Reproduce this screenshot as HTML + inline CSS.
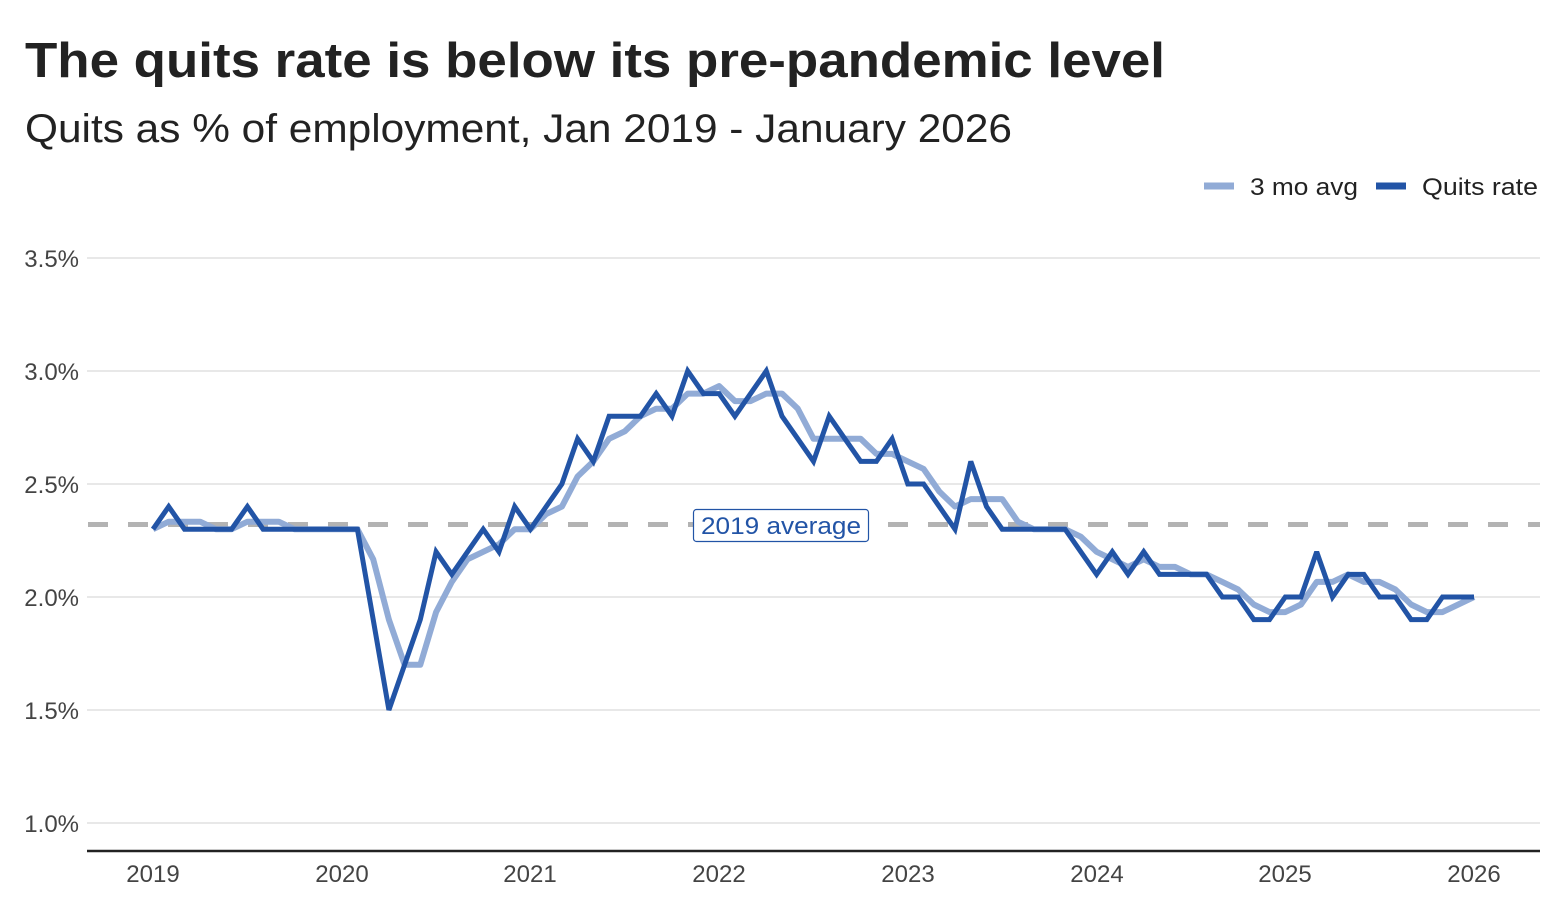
<!DOCTYPE html>
<html>
<head>
<meta charset="utf-8">
<style>
html,body{margin:0;padding:0;background:#fff;}
svg{display:block;}
text{font-family:"Liberation Sans",Arial,sans-serif;}
</style>
</head>
<body>
<svg width="1566" height="897" viewBox="0 0 1566 897" xmlns="http://www.w3.org/2000/svg">
<rect x="0" y="0" width="1566" height="897" fill="#fff"/>
<text x="25" y="77" font-size="49" font-weight="bold" fill="#222" textLength="1140" lengthAdjust="spacingAndGlyphs">The quits rate is below its pre-pandemic level</text>
<text x="25" y="142" font-size="40" fill="#222" textLength="987" lengthAdjust="spacingAndGlyphs">Quits as % of employment, Jan 2019 - January 2026</text>

<!-- legend -->
<line x1="1204" y1="186" x2="1234" y2="186" stroke="#91abd6" stroke-width="7"/>
<text x="1250" y="195" font-size="24" fill="#222" textLength="108" lengthAdjust="spacingAndGlyphs">3 mo avg</text>
<line x1="1376" y1="186" x2="1406" y2="186" stroke="#2254a6" stroke-width="7"/>
<text x="1422" y="195" font-size="24" fill="#222" textLength="116" lengthAdjust="spacingAndGlyphs">Quits rate</text>

<!-- gridlines -->
<g stroke="#d9d9d9" stroke-width="1.3">
<line x1="87" y1="258" x2="1540" y2="258"/>
<line x1="87" y1="371" x2="1540" y2="371"/>
<line x1="87" y1="484" x2="1540" y2="484"/>
<line x1="87" y1="597" x2="1540" y2="597"/>
<line x1="87" y1="710" x2="1540" y2="710"/>
<line x1="87" y1="823" x2="1540" y2="823"/>
</g>
<g font-size="24" fill="#444" text-anchor="end">
<text x="79" y="267">3.5%</text>
<text x="79" y="380">3.0%</text>
<text x="79" y="493">2.5%</text>
<text x="79" y="606">2.0%</text>
<text x="79" y="719">1.5%</text>
<text x="79" y="832">1.0%</text>
</g>

<!-- x axis -->
<line x1="87" y1="851" x2="1540" y2="851" stroke="#222" stroke-width="2.5"/>
<g font-size="24" fill="#444" text-anchor="middle">
<text x="153" y="882">2019</text>
<text x="342" y="882">2020</text>
<text x="530" y="882">2021</text>
<text x="719" y="882">2022</text>
<text x="908" y="882">2023</text>
<text x="1097" y="882">2024</text>
<text x="1285" y="882">2025</text>
<text x="1474" y="882">2026</text>
</g>

<!-- 2019 average dashed -->
<line x1="88" y1="524.5" x2="1540" y2="524.5" stroke="#b3b3b3" stroke-width="5" stroke-dasharray="20 20"/>

<!-- 3 mo avg -->
<polyline fill="none" stroke="#91abd6" stroke-width="6" stroke-linejoin="round" stroke-linecap="butt" points="153,529.2 168.7,521.7 184.5,521.7 200.2,521.7 215.9,529.2 231.6,529.2 247.4,521.7 263.1,521.7 278.8,521.7 294.5,529.2 310.3,529.2 326,529.2 341.7,529.2 357.4,529.2 373.2,559.3 388.9,619.6 404.6,664.8 420.3,664.8 436.1,612.1 451.8,581.9 467.5,559.3 483.2,551.8 499,544.3 514.7,529.2 530.4,529.2 546.2,514.1 561.9,506.6 577.6,476.5 593.3,461.4 609.1,438.8 624.8,431.3 640.5,416.2 656.2,408.7 672,408.7 687.7,393.6 703.4,393.6 719.1,386.1 734.9,401.1 750.6,401.1 766.3,393.6 782,393.6 797.8,408.7 813.5,438.8 829.2,438.8 844.9,438.8 860.7,438.8 876.4,453.9 892.1,453.9 907.8,461.4 923.6,468.9 939.3,491.5 955,506.6 970.8,499.1 986.5,499.1 1002.2,499.1 1017.9,521.7 1033.7,529.2 1049.4,529.2 1065.1,529.2 1080.8,536.7 1096.6,551.8 1112.3,559.3 1128,566.9 1143.7,559.3 1159.5,566.9 1175.2,566.9 1190.9,574.4 1206.6,574.4 1222.4,581.9 1238.1,589.5 1253.8,604.5 1269.5,612.1 1285.3,612.1 1301,604.5 1316.7,581.9 1332.5,581.9 1348.2,574.4 1363.9,581.9 1379.6,581.9 1395.4,589.5 1411.1,604.5 1426.8,612.1 1442.5,612.1 1458.3,604.5 1474,597"/>

<!-- Quits rate -->
<polyline fill="none" stroke="#2254a6" stroke-width="5" stroke-linejoin="miter" stroke-miterlimit="3" stroke-linecap="butt" points="153,529.2 168.7,506.6 184.5,529.2 200.2,529.2 215.9,529.2 231.6,529.2 247.4,506.6 263.1,529.2 278.8,529.2 294.5,529.2 310.3,529.2 326,529.2 341.7,529.2 357.4,529.2 373.2,619.6 388.9,710 404.6,664.8 420.3,619.6 436.1,551.8 451.8,574.4 467.5,551.8 483.2,529.2 499,551.8 514.7,506.6 530.4,529.2 546.2,506.6 561.9,484 577.6,438.8 593.3,461.4 609.1,416.2 624.8,416.2 640.5,416.2 656.2,393.6 672,416.2 687.7,371 703.4,393.6 719.1,393.6 734.9,416.2 750.6,393.6 766.3,371 782,416.2 797.8,438.8 813.5,461.4 829.2,416.2 844.9,438.8 860.7,461.4 876.4,461.4 892.1,438.8 907.8,484 923.6,484 939.3,506.6 955,529.2 970.8,461.4 986.5,506.6 1002.2,529.2 1017.9,529.2 1033.7,529.2 1049.4,529.2 1065.1,529.2 1080.8,551.8 1096.6,574.4 1112.3,551.8 1128,574.4 1143.7,551.8 1159.5,574.4 1175.2,574.4 1190.9,574.4 1206.6,574.4 1222.4,597 1238.1,597 1253.8,619.6 1269.5,619.6 1285.3,597 1301,597 1316.7,551.8 1332.5,597 1348.2,574.4 1363.9,574.4 1379.6,597 1395.4,597 1411.1,619.6 1426.8,619.6 1442.5,597 1458.3,597 1474,597"/>

<!-- annotation -->
<rect x="693.5" y="509.5" width="175" height="32" rx="3" ry="3" fill="#fff" stroke="#2254a6" stroke-width="1.2"/>
<text x="781" y="534" font-size="24" fill="#2254a6" text-anchor="middle" textLength="160" lengthAdjust="spacingAndGlyphs">2019 average</text>
</svg>
</body>
</html>
